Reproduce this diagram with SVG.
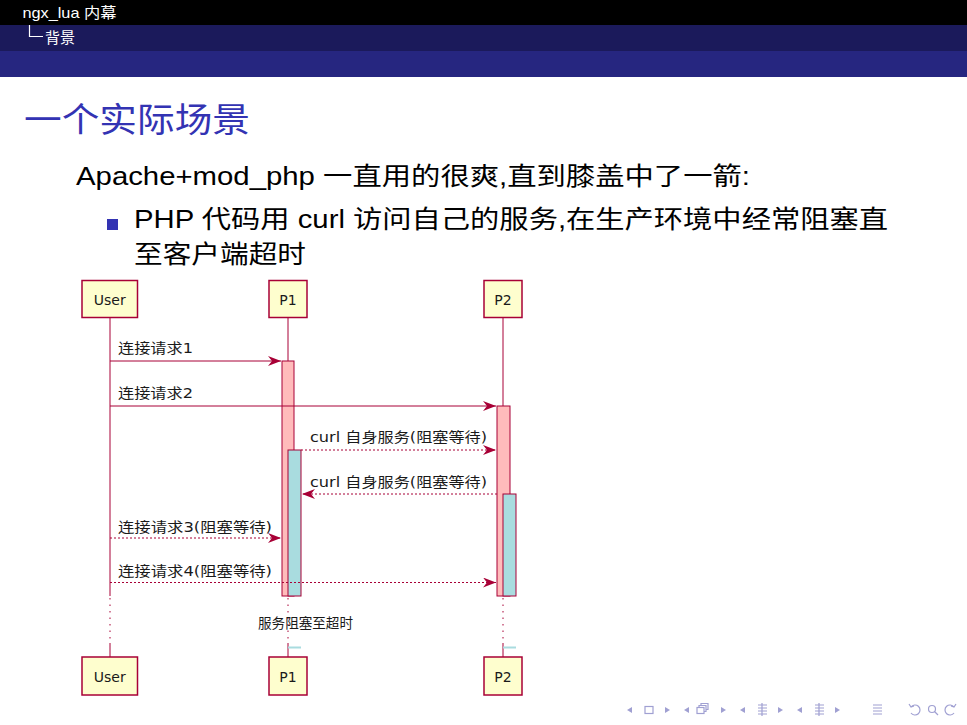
<svg xmlns="http://www.w3.org/2000/svg" width="967" height="725" viewBox="0 0 967 725">
<defs>
<style>
.hdr{font-family:"Liberation Sans","Noto Sans CJK SC",sans-serif;font-size:15px;fill:#ffffff}
.title{font-family:"Liberation Sans","Noto Sans CJK SC",sans-serif;font-size:34px;fill:#3333b3}
.body{font-family:"Liberation Sans","Noto Sans CJK SC",sans-serif;font-size:25px;fill:#000000}
.lbl{font-family:"DejaVu Sans","Noto Sans CJK SC",sans-serif;font-size:14px;fill:#1a1a1a}
.box{fill:#FEFECE;stroke:#A80036;stroke-width:1.5}
.life{stroke:#A80036;stroke-width:1;fill:none}
.dot{stroke:#A80036;stroke-width:1;stroke-dasharray:1.5,5;fill:none}
.msg{stroke:#A80036;stroke-width:1;fill:none}
.dash{stroke:#A80036;stroke-width:1;stroke-dasharray:2,2;fill:none}
.actp{fill:#FFBBBB;stroke:#A80036;stroke-width:1}
.actc{fill:#A9DCDF;stroke:#A80036;stroke-width:1}
.nav{fill:#a0a0d2;stroke:none}
.navs{fill:none;stroke:#a0a0d2;stroke-width:1.2}
</style>
<marker id="ah" viewBox="0 0 13 10" refX="13" refY="5" markerWidth="13" markerHeight="10" markerUnits="userSpaceOnUse" orient="auto">
<path d="M0,0 L13,5 L0,10 L4,5 Z" fill="#A80036"/>
</marker>
</defs>
<rect x="0" y="0" width="967" height="725" fill="#ffffff"/>
<g id="header">
<rect x="0" y="0" width="967" height="25" fill="#000000"/>
<rect x="0" y="25" width="967" height="26" fill="#1b1a5b"/>
<rect x="0" y="51" width="967" height="26" fill="#262680"/>
<text class="hdr" x="22.5" y="18" textLength="94" lengthAdjust="spacingAndGlyphs">ngx_lua 内幕</text>
<path d="M29.5,25 V36.5 H43" stroke="#ffffff" stroke-width="1.2" fill="none"/>
<text class="hdr" x="45" y="43" textLength="30" lengthAdjust="spacingAndGlyphs">背景</text>
</g>
<g id="slide-text">
<text class="title" x="24" y="132" textLength="226" lengthAdjust="spacingAndGlyphs">一个实际场景</text>
<text class="body" x="76" y="185" textLength="674" lengthAdjust="spacingAndGlyphs">Apache+mod_php 一直用的很爽,直到膝盖中了一箭:</text>
<rect x="107" y="219" width="11" height="11" fill="#3333b3"/>
<text class="body" x="134" y="228" textLength="754" lengthAdjust="spacingAndGlyphs">PHP 代码用 curl 访问自己的服务,在生产环境中经常阻塞直</text>
<text class="body" x="134" y="263" textLength="172" lengthAdjust="spacingAndGlyphs">至客户端超时</text>
</g>
<g id="lifelines">
<path class="life" d="M110,317 V596 M110,643 V657"/>
<path class="dot" d="M110,598 V642"/>
<path class="life" d="M288,317 V361 M288,643 V657"/>
<path class="dot" d="M288,598 V642"/>
<path class="life" d="M503,317 V406 M503,643 V657"/>
<path class="dot" d="M503,598 V642"/>
</g>
<g id="activations">
<rect class="actp" x="282" y="361" width="12" height="235"/>
<rect class="actc" x="288" y="450" width="13" height="146"/>
<rect class="actp" x="497" y="406" width="13" height="190"/>
<rect class="actc" x="503" y="494" width="13" height="102"/>
<rect x="288" y="646.5" width="13" height="2" fill="#A9DCDF"/>
<rect x="503" y="646.5" width="13" height="2" fill="#A9DCDF"/>
</g>
<g id="connectors">
<line class="msg" x1="110" y1="361" x2="281" y2="361" marker-end="url(#ah)"/>
<line class="msg" x1="110" y1="406" x2="496" y2="406" marker-end="url(#ah)"/>
<line class="dash" x1="301" y1="450" x2="496" y2="450" marker-end="url(#ah)"/>
<line class="dash" x1="497" y1="494" x2="302" y2="494" marker-end="url(#ah)"/>
<line class="dash" x1="110" y1="538" x2="281" y2="538" marker-end="url(#ah)"/>
<line class="dash" x1="110" y1="582.5" x2="496" y2="582.5" marker-end="url(#ah)"/>
<text class="lbl" x="118" y="353" textLength="75" lengthAdjust="spacingAndGlyphs">连接请求1</text>
<text class="lbl" x="118" y="397.5" textLength="75" lengthAdjust="spacingAndGlyphs">连接请求2</text>
<text class="lbl" x="310" y="441.5" textLength="177" lengthAdjust="spacingAndGlyphs">curl 自身服务(阻塞等待)</text>
<text class="lbl" x="310" y="486.5" textLength="177" lengthAdjust="spacingAndGlyphs">curl 自身服务(阻塞等待)</text>
<text class="lbl" x="118" y="531.5" textLength="154" lengthAdjust="spacingAndGlyphs">连接请求3(阻塞等待)</text>
<text class="lbl" x="118" y="576" textLength="154" lengthAdjust="spacingAndGlyphs">连接请求4(阻塞等待)</text>
<text class="lbl" x="305.5" y="628" text-anchor="middle" font-size="13" textLength="95" lengthAdjust="spacingAndGlyphs">服务阻塞至超时</text>
</g>
<g id="user-top">
<rect class="box" x="82" y="280.5" width="55.5" height="37"/>
<text class="lbl" x="109.8" y="305" text-anchor="middle" font-size="15">User</text>
</g>
<g id="p1-top">
<rect class="box" x="269" y="280.5" width="38" height="37"/>
<text class="lbl" x="288" y="305" text-anchor="middle" font-size="15">P1</text>
</g>
<g id="p2-top">
<rect class="box" x="484" y="280.5" width="38" height="37"/>
<text class="lbl" x="503" y="305" text-anchor="middle" font-size="15">P2</text>
</g>
<g id="user-bottom">
<rect class="box" x="82" y="657" width="55.5" height="38"/>
<text class="lbl" x="109.8" y="682" text-anchor="middle" font-size="15">User</text>
</g>
<g id="p1-bottom">
<rect class="box" x="269" y="657" width="38" height="38"/>
<text class="lbl" x="288" y="682" text-anchor="middle" font-size="15">P1</text>
</g>
<g id="p2-bottom">
<rect class="box" x="484" y="657" width="38" height="38"/>
<text class="lbl" x="503" y="682" text-anchor="middle" font-size="15">P2</text>
</g>
<g id="nav">
<path class="nav" d="M627,710 L632,707 L632,713 Z"/>
<rect class="navs" x="645" y="706.5" width="8" height="7"/>
<path class="nav" d="M670,710 L665,707 L665,713 Z"/>
<path class="nav" d="M684,710 L689,707 L689,713 Z"/>
<rect class="navs" x="697" y="707.5" width="7" height="6"/>
<path class="navs" d="M699,707.5 V705.5 H706 V711.5 H704 M701,705.5 V703.5 H708 V709.5 H706"/>
<path class="nav" d="M726,710 L721,707 L721,713 Z"/>
<path class="nav" d="M740,710 L745,707 L745,713 Z"/>
<path class="navs" d="M758,705 H767 M758,708 H767 M758,711 H767 M758,714 H767 M762,703 V716"/>
<path class="nav" d="M783,710 L778,707 L778,713 Z"/>
<path class="nav" d="M797,710 L802,707 L802,713 Z"/>
<path class="navs" d="M815,705 H824 M815,708 H824 M815,711 H824 M815,714 H824 M819,703 V716"/>
<path class="nav" d="M840,710 L835,707 L835,713 Z"/>
<path class="navs" d="M873,705 H882 M873,708 H882 M873,711 H882 M873,714 H882"/>
<path class="navs" d="M911,707 A5,5 0 1 1 911,713 M909,704 L911,707 L914,706"/>
<circle class="navs" cx="932" cy="709" r="3.5"/>
<path class="navs" d="M934.5,711.5 L938,715"/>
<path class="navs" d="M954,707 A5,5 0 1 0 954,713 M956,704 L954,707 L951,706"/>
</g>
</svg>
